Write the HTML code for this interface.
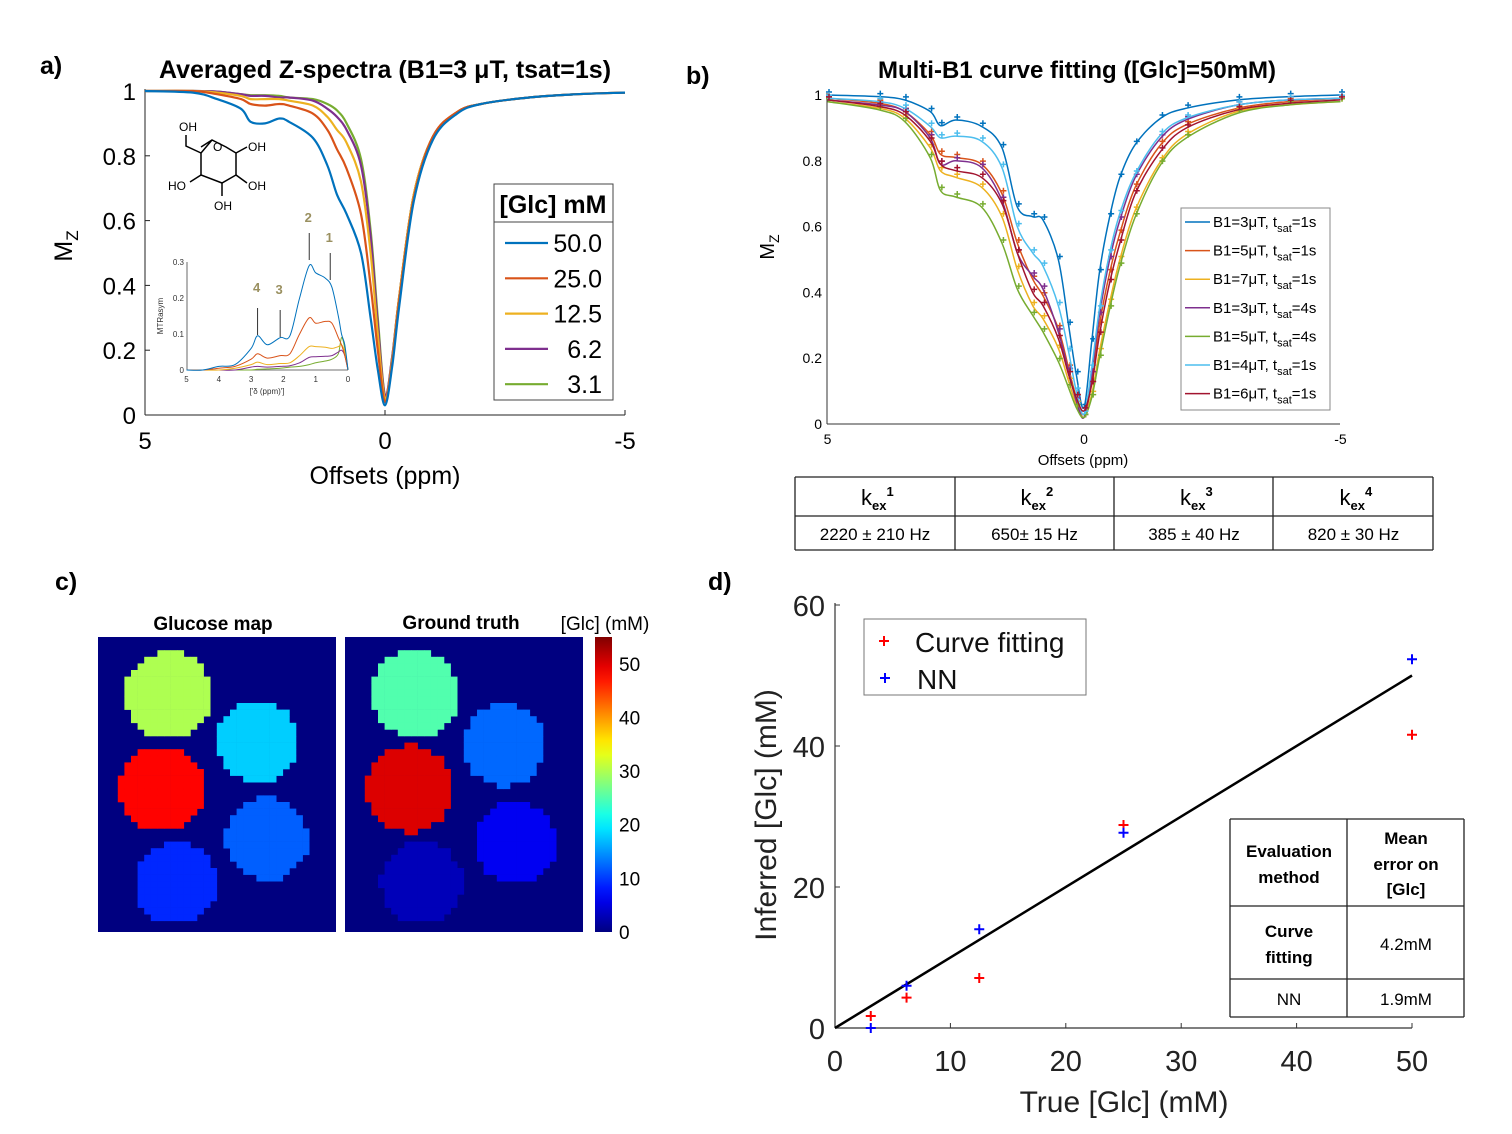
<!DOCTYPE html>
<html><head><meta charset="utf-8"><style>
html,body{margin:0;padding:0;background:#fff;}
svg{display:block;font-family:"Liberation Sans",sans-serif;}
</style></head><body>
<svg id="fig" width="1512" height="1134" viewBox="0 0 1512 1134" xmlns="http://www.w3.org/2000/svg">
<rect x="0" y="0" width="1512" height="1134" fill="#fff"/>
<text x="40" y="74" font-size="25" font-weight="bold">a)</text>
<text x="686" y="84" font-size="25" font-weight="bold">b)</text>
<text x="55" y="590" font-size="25" font-weight="bold">c)</text>
<text x="708" y="590" font-size="25" font-weight="bold">d)</text>
<text x="385" y="78" font-size="25" font-weight="bold" text-anchor="middle">Averaged Z-spectra (B1=3 μT, tsat=1s)</text>
<text x="1077" y="78" font-size="24" font-weight="bold" text-anchor="middle">Multi-B1 curve fitting ([Glc]=50mM)</text>
<g id="pa"></g>
<g id="pb"></g>
<g id="pc"></g>
<g id="pd"></g>
</svg>
<script>
// ---------- Panel a data ----------
const aOffsets=[5,4,3.5,3,2.8,2.5,2.2,2,1.5,1.2,1,0.8,0.5,0.3,0.15,0,-0.15,-0.3,-0.6,-1,-1.5,-2,-3,-4,-5];
const aLabels=["50.0","25.0","12.5","6.2","3.1"];
const aS50=[1,0.995,0.975,0.945,0.905,0.9,0.915,0.905,0.855,0.77,0.68,0.62,0.5,0.3,0.14,0.03,0.15,0.34,0.66,0.85,0.93,0.96,0.98,0.99,0.995];
const aS25=[1,1,0.99,0.975,0.96,0.955,0.96,0.955,0.93,0.88,0.82,0.76,0.62,0.4,0.2,0.04,0.16,0.36,0.67,0.86,0.935,0.96,0.98,0.99,0.995];
const aS12=[1,1,0.995,0.985,0.975,0.975,0.975,0.97,0.955,0.92,0.88,0.84,0.72,0.5,0.25,0.05,0.17,0.37,0.68,0.86,0.935,0.96,0.98,0.99,0.995];
const aS6=[1,1,0.998,0.99,0.985,0.985,0.98,0.98,0.97,0.945,0.92,0.88,0.77,0.55,0.28,0.06,0.18,0.37,0.68,0.86,0.935,0.96,0.98,0.99,0.995];
const aS3=[1,1,0.998,0.99,0.987,0.987,0.985,0.98,0.975,0.96,0.94,0.9,0.79,0.57,0.3,0.06,0.18,0.37,0.68,0.86,0.935,0.96,0.98,0.99,0.995];
const aXTicks=[5,0,-5];
const aYTicks=[0,0.2,0.4,0.6,0.8,1];
const aYTickLabels=["0","0.2","0.4","0.6","0.8","1"];
// inset
const inOffsets=[5,4.5,4,3.5,3,2.8,2.5,2.1,1.8,1.5,1.2,1,0.7,0.5,0.3,0.2,0.1,0];
const in50=[0,0,0.01,0.015,0.06,0.095,0.07,0.09,0.095,0.2,0.29,0.27,0.255,0.23,0.15,0.1,0.07,0];
const in25=[0,0,0.005,0.01,0.03,0.045,0.033,0.04,0.045,0.1,0.145,0.13,0.135,0.13,0.09,0.07,0.04,0];
const in12=[0,0,0,0.005,0.015,0.022,0.015,0.018,0.02,0.04,0.065,0.065,0.063,0.06,0.065,0.07,0.05,0];
const in6=[0,0,0,0,0.008,0.01,0.008,0.01,0.012,0.02,0.035,0.037,0.038,0.04,0.05,0.055,0.04,0];
const in3=[0,0,0,0,0,0.002,0.003,0.005,0.008,0.01,0.015,0.02,0.025,0.03,0.045,0.09,0.06,0];
const inXTicks=[5,4,3,2,1,0];
const inYTicks=[0,0.1,0.2,0.3];
const inPeaks=[0.55,1.2,2.1,2.8];
const inPeakLabels=["1","2","3","4"];
// ---------- Panel b data ----------
const bOffsets=[5,4,3.5,3,2.8,2.5,2,1.6,1.3,1,0.8,0.5,0.3,0.15,0,-0.15,-0.3,-0.5,-0.7,-1,-1.5,-2,-3,-4,-5];
const bB1=["3","5","7","3","5","4","6"];
const bTsat=["1","1","1","4","4","1","1"];
const bS1=[1,0.995,0.985,0.95,0.907,0.924,0.905,0.84,0.66,0.63,0.62,0.5,0.3,0.15,0.05,0.25,0.46,0.63,0.75,0.85,0.93,0.96,0.985,0.995,1];
const bS2=[0.99,0.975,0.95,0.88,0.82,0.81,0.79,0.7,0.55,0.44,0.39,0.29,0.17,0.08,0.02,0.13,0.3,0.46,0.58,0.72,0.85,0.91,0.96,0.98,0.99];
const bS3=[0.98,0.96,0.93,0.84,0.77,0.75,0.72,0.63,0.47,0.36,0.32,0.23,0.13,0.06,0.02,0.09,0.22,0.37,0.5,0.65,0.8,0.88,0.95,0.97,0.98];
const bS4=[0.985,0.97,0.95,0.87,0.79,0.8,0.78,0.68,0.52,0.45,0.41,0.28,0.16,0.07,0.02,0.15,0.33,0.5,0.62,0.75,0.87,0.925,0.97,0.985,0.99];
const bS5=[0.98,0.955,0.92,0.81,0.71,0.69,0.66,0.55,0.41,0.33,0.28,0.19,0.11,0.05,0.02,0.08,0.2,0.35,0.48,0.63,0.79,0.87,0.945,0.97,0.98];
const bS6=[0.99,0.98,0.96,0.905,0.87,0.875,0.86,0.78,0.6,0.52,0.48,0.36,0.22,0.1,0.03,0.17,0.35,0.52,0.64,0.76,0.88,0.93,0.97,0.985,0.99];
const bS7=[0.985,0.965,0.94,0.86,0.79,0.77,0.75,0.67,0.52,0.4,0.36,0.26,0.15,0.08,0.04,0.12,0.27,0.43,0.55,0.7,0.83,0.9,0.955,0.975,0.985];
const bXTicks=[5,0,-5];
const bYTicks=[0,0.2,0.4,0.6,0.8,1];
const bYTickLabels=["0","0.2","0.4","0.6","0.8","1"];
const kexNames=["1","2","3","4"];
const kexValues=["2220 ± 210 Hz","650± 15 Hz","385  ± 40 Hz","820 ± 30 Hz"];
// ---------- Panel c data (cell units) ----------
const cMapCx=[10.6,24.1,9.7,25.6,11.8];
const cMapCy=[8.8,15.8,23.0,30.6,37.3];
const cMapR=[6.6,6.2,6.5,6.2,6.2];
const cMapVal=[30,18,48,12,9];
const cTruthCx=[10.6,24.1,9.8,25.8,11.6];
const cTruthCy=[8.6,16.4,23.0,31.1,37.3];
const cTruthR=[6.6,6.2,6.6,6.2,6.2];
const cTruthVal=[25,12.5,50,6.2,3.1];
const cbTicks=[0,10,20,30,40,50];
// ---------- Panel d data ----------
const dTrue=[3.1,6.2,12.5,25,50];
const dCF=[1.7,4.3,7.1,28.8,41.6];
const dNN=[0,6,14,27.7,52.3];
const dXTicks=[0,10,20,30,40,50];
const dYTicks=[0,20,40,60];
const evalRows=[["Curve","fitting"],["NN"]];
const evalErr=["4.2mM","1.9mM"];

const NS="http://www.w3.org/2000/svg";
function mk(tag,attrs,parent,txt){const e=document.createElementNS(NS,tag);for(const k in attrs)e.setAttribute(k,attrs[k]);if(txt!==undefined)e.textContent=txt;parent.appendChild(e);return e;}
function smooth(pts){let d=`M${pts[0][0]},${pts[0][1]}`;
 for(let i=0;i<pts.length-1;i++){const p0=pts[Math.max(0,i-1)],p1=pts[i],p2=pts[i+1],p3=pts[Math.min(pts.length-1,i+2)];
  const c1=[p1[0]+(p2[0]-p0[0])/6,p1[1]+(p2[1]-p0[1])/6],c2=[p2[0]-(p3[0]-p1[0])/6,p2[1]-(p3[1]-p1[1])/6];
  d+=`C${c1[0].toFixed(1)},${c1[1].toFixed(1)} ${c2[0].toFixed(1)},${c2[1].toFixed(1)} ${p2[0].toFixed(1)},${p2[1].toFixed(1)}`;}
 return d;}
let el;

// ================= PANEL A =================
(function(){
const g=document.getElementById('pa');
const x=v=>385-v*48, y=v=>415-v*324;
el=mk('line',{x1:145,y1:415,x2:625,y2:415,stroke:'#222','stroke-width':1},g);

el=mk('line',{x1:145,y1:415,x2:145,y2:89,stroke:'#222','stroke-width':1},g);

aXTicks.forEach(t=>{
 el=mk('line',{x1:x(t),y1:415,x2:x(t),y2:410,stroke:'#222'},g);
 
 el=mk('text',{x:x(t),y:449,'font-size':24,'text-anchor':'middle'},g,String(t));
 
});
aYTicks.forEach((t,i)=>{
 el=mk('line',{x1:145,y1:y(t),x2:150,y2:y(t),stroke:'#222'},g);
 
 el=mk('text',{x:136,y:y(t)+9,'font-size':24,'text-anchor':'end'},g,aYTickLabels[i]);
 
});
el=mk('text',{x:385,y:484,'font-size':25,'text-anchor':'middle'},g,'Offsets (ppm)');

el=mk('text',{x:0,y:0,'font-size':25,'text-anchor':'middle',transform:'translate(72,246) rotate(-90)'},g);

el.innerHTML='M<tspan font-size="17" dy="6">Z</tspan>';
const series=[aS3,aS6,aS12,aS25,aS50];
const cols=['#77AC30','#7E2F8E','#EDB120','#D95319','#0072BD'];
series.forEach((s,i)=>{
 el=mk('path',{d:smooth(s.map((v,j)=>[x(aOffsets[j]),y(v)])),fill:'none',stroke:cols[i],'stroke-width':2.2,'stroke-linejoin':'round'},g);
 
});
// legend
el=mk('rect',{x:494,y:184,width:119,height:216,fill:'#fff',stroke:'#444','stroke-width':1},g);

el=mk('line',{x1:494,y1:222,x2:613,y2:222,stroke:'#444'},g);

el=mk('text',{x:553,y:213,'font-size':25,'font-weight':'bold','text-anchor':'middle'},g,'[Glc] mM');

const lc=['#0072BD','#D95319','#EDB120','#7E2F8E','#77AC30'];
aLabels.forEach((l,i)=>{
 const yy=243+i*35.3;
 el=mk('line',{x1:505,y1:yy,x2:548,y2:yy,stroke:lc[i],'stroke-width':2.2},g);
 
 el=mk('text',{x:602,y:yy+9,'font-size':25,'text-anchor':'end'},g,l);
 
});
// molecule
const mol=mk('g',{stroke:'#000','stroke-width':1.5,fill:'none'},g);

el=mk('polyline',{points:'201,147 212,140 226,147 236,153 236,175 222,183 201,175 201,153 212,140'},mol);

el=mk('polyline',{points:'201,153 186,146 186,135'},mol);

el=mk('polyline',{points:'236,153 247,147'},mol);

el=mk('polyline',{points:'236,175 247,183'},mol);

el=mk('polyline',{points:'201,175 190,182'},mol);

el=mk('polyline',{points:'222,183 222,196'},mol);

const labs=[[179,131,'OH'],[213,151,'O'],[248,151,'OH'],[168,190,'HO'],[248,190,'OH'],[214,210,'OH']];
labs.forEach(l=>{el=mk('text',{x:l[0],y:l[1],'font-size':12},g,l[2]);
 });
// inset
const ix=v=>348-v*32.3, iy=v=>370-v*360;
el=mk('polyline',{points:'187,262 187,370 348,370',fill:'none',stroke:'#444','stroke-width':0.8},g);

inXTicks.forEach(t=>{el=mk('text',{x:ix(t),y:382,'font-size':8,'text-anchor':'middle',fill:'#333'},g,String(t));
 });
inYTicks.forEach(t=>{el=mk('text',{x:184,y:iy(t)+3,'font-size':8,'text-anchor':'end',fill:'#333'},g,String(t));
 });
el=mk('text',{x:267,y:394,'font-size':8,'text-anchor':'middle',fill:'#333'},g,"['δ (ppm)']");

el=mk('text',{x:0,y:0,'font-size':8,'text-anchor':'middle',fill:'#333',transform:'translate(163,316) rotate(-90)'},g,'MTRasym');

[in3,in6,in12,in25,in50].forEach((s,i)=>{
 el=mk('path',{d:smooth(s.map((v,j)=>[ix(inOffsets[j]),iy(v)])),fill:'none',stroke:cols[i],'stroke-width':1},g);
 
});
inPeaks.forEach((p,i)=>{
 const top=[245,225,302,300][i];
 el=mk('line',{x1:ix(p),y1:top+8,x2:ix(p),y2:top+35,stroke:'#333'},g);
 
 el=mk('text',{x:ix(p)-1,y:top+(i<2?-3:-8),'font-size':13,'font-weight':'bold','text-anchor':'middle',fill:'#9a9060'},g,inPeakLabels[i]);
 
});
})();

// ================= PANEL B =================
(function(){
const g=document.getElementById('pb');
const x=v=>1084-v*51.3, y=v=>424-v*329;
el=mk('line',{x1:827,y1:424,x2:1340,y2:424,stroke:'#333'},g);

el=mk('line',{x1:827,y1:424,x2:827,y2:93,stroke:'#333'},g);

bXTicks.forEach(t=>{el=mk('text',{x:x(t),y:444,'font-size':14,'text-anchor':'middle'},g,String(t));
 });
bYTicks.forEach((t,i)=>{el=mk('text',{x:822,y:y(t)+5,'font-size':14,'text-anchor':'end'},g,bYTickLabels[i]);
 });
el=mk('text',{x:1083,y:465,'font-size':15,'text-anchor':'middle'},g,'Offsets (ppm)');

el=mk('text',{x:0,y:0,'font-size':20,'text-anchor':'middle',transform:'translate(774,247) rotate(-90)'},g);

el.innerHTML='M<tspan font-size="14" dy="5">Z</tspan>';
const series=[bS1,bS2,bS3,bS4,bS5,bS6,bS7];
const cols=['#0072BD','#D95319','#EDB120','#7E2F8E','#77AC30','#4DBEEE','#A2142F'];
series.forEach((s,i)=>{
 el=mk('path',{d:smooth(s.map((v,j)=>[x(bOffsets[j]),y(v)])),fill:'none',stroke:cols[i],'stroke-width':1.5},g);
 
 s.forEach((v,j)=>{
  const px=x(bOffsets[j])+1.5,py=y(v)-3;
  el=mk('path',{d:`M${px-3},${py}h6M${px},${py-3}v6`,stroke:cols[i],'stroke-width':1.5},g);
  
 });
});
el=mk('rect',{x:1181,y:208,width:149,height:202,fill:'#fff',stroke:'#888'},g);

bB1.forEach((b,i)=>{
 const yy=222+i*28.6;
 el=mk('line',{x1:1185,y1:yy,x2:1210,y2:yy,stroke:cols[i],'stroke-width':1.5},g);
 
 el=mk('text',{x:1213,y:yy+5,'font-size':15},g);
 
 el.innerHTML=`B1=${b}μT, t<tspan font-size="11" dy="5">sat</tspan><tspan dy="-5">=${bTsat[i]}s</tspan>`;
});
// kex table
const tb=mk('g',{},g);

el=mk('path',{d:'M795,477H1433M795,516H1433M795,550H1433M795,477V550M955,477V550M1114,477V550M1273,477V550M1433,477V550',stroke:'#222','stroke-width':1.3,fill:'none'},tb);

kexNames.forEach((k,i)=>{
 const cx=875+i*159.5;
 el=mk('text',{x:cx-14,y:505,'font-size':22},tb);
 
 el.innerHTML=`k<tspan font-size="13" font-weight="bold" dy="5">ex</tspan><tspan font-size="13" font-weight="bold" dy="-14">${k}</tspan>`;
 el=mk('text',{x:cx,y:540,'font-size':17,'text-anchor':'middle'},tb,kexValues[i]);
 
});
})();

// ================= PANEL C =================
(function(){
const g=document.getElementById('pc');
const vmax=55, cs=6.6, cols=36, rows=45;
function jet(v){const t=Math.max(0,Math.min(1,v/vmax));
 const f=(a)=>Math.max(0,Math.min(1,1.5-Math.abs(4*t-a)));
 return `rgb(${Math.round(255*f(3))},${Math.round(255*f(2))},${Math.round(255*f(1))})`;}
function map(x0,name,cx,cy,r,val){
 el=mk('rect',{x:x0,y:637,width:238,height:295,fill:jet(0)},g);
 
 cx.forEach((c,k)=>{
  for(let i=0;i<cols;i++)for(let j=0;j<rows;j++){
   const dx=i+0.5-c,dy=j+0.5-cy[k];
   if(dx*dx+dy*dy<=r[k]*r[k]){
    el=mk('rect',{x:x0+i*cs,y:637+j*cs,width:cs+0.3,height:cs+0.3,fill:jet(val[k])},g);
    
   }
  }
 });
}
map(98,'glucose-map',cMapCx,cMapCy,cMapR,cMapVal);
map(345,'ground-truth',cTruthCx,cTruthCy,cTruthR,cTruthVal);
el=mk('text',{x:213,y:630,'font-size':19,'font-weight':'bold','text-anchor':'middle'},g,'Glucose map');

el=mk('text',{x:461,y:629,'font-size':19,'font-weight':'bold','text-anchor':'middle'},g,'Ground truth');

el=mk('text',{x:605,y:630,'font-size':19,'text-anchor':'middle'},g,'[Glc] (mM)');

const defs=mk('defs',{},g);
const lg=mk('linearGradient',{id:'jetg',x1:0,y1:1,x2:0,y2:0},defs);
for(let s=0;s<=20;s++){mk('stop',{offset:s/20,'stop-color':jet(s/20*vmax)},lg);}
el=mk('rect',{x:595,y:637,width:17,height:295,fill:'url(#jetg)'},g);

cbTicks.forEach(t=>{const yy=932-t*295/vmax;
 el=mk('text',{x:619,y:yy+7,'font-size':19},g,String(t));
 });
})();

// ================= PANEL D =================
(function(){
const g=document.getElementById('pd');
const x=v=>835+v*11.54, y=v=>1028-v*7.05;
el=mk('line',{x1:835,y1:1028,x2:1412,y2:1028,stroke:'#333','stroke-width':1.2},g);

el=mk('line',{x1:835,y1:1028,x2:835,y2:603,stroke:'#333','stroke-width':1.2},g);

dXTicks.forEach(t=>{
 el=mk('line',{x1:x(t),y1:1028,x2:x(t),y2:1023,stroke:'#333'},g);
 
 el=mk('text',{x:x(t),y:1071,'font-size':29,'text-anchor':'middle',fill:'#222'},g,String(t));
 });
dYTicks.forEach(t=>{
 el=mk('line',{x1:835,y1:y(t),x2:840,y2:y(t),stroke:'#333'},g);
 
 el=mk('text',{x:825,y:y(t)+11,'font-size':29,'text-anchor':'end',fill:'#222'},g,String(t));
 });
el=mk('text',{x:1124,y:1112,'font-size':30,'text-anchor':'middle',fill:'#222'},g,'True [Glc] (mM)');

el=mk('text',{x:0,y:0,'font-size':30,'text-anchor':'middle',fill:'#222',transform:'translate(776,815) rotate(-90)'},g,'Inferred [Glc] (mM)');

el=mk('line',{x1:x(0),y1:y(0),x2:x(50),y2:y(50),stroke:'#000','stroke-width':2.5},g);

function plus(px,py,c,name){el=mk('path',{d:`M${px-5},${py}h10M${px},${py-5}v10`,stroke:c,'stroke-width':2},g);
 }
dTrue.forEach((t,i)=>{plus(x(t),y(dCF[i]),'#f00','curve-fitting-point');plus(x(t),y(dNN[i]),'#00f','nn-point');});
el=mk('rect',{x:864,y:619,width:222,height:76,fill:'#fff',stroke:'#777'},g);

plus(884,641,'#f00','legend-marker-curve-fitting');plus(885,678,'#00f','legend-marker-nn');
el=mk('text',{x:915,y:652,'font-size':28,fill:'#111'},g,'Curve fitting');

el=mk('text',{x:917,y:689,'font-size':28,fill:'#111'},g,'NN');

const tb=mk('g',{},g);

el=mk('rect',{x:1230,y:819,width:234,height:198,fill:'#fff',stroke:'none'},tb);

el=mk('path',{d:'M1230,819H1464M1230,906H1464M1230,979H1464M1230,1017H1464M1230,819V1017M1347,819V1017M1464,819V1017',stroke:'#222','stroke-width':1.3,fill:'none'},tb);

[['Evaluation',857],['method',883]].forEach(a=>{el=mk('text',{x:1289,y:a[1],'font-size':17,'font-weight':'bold','text-anchor':'middle'},tb,a[0]);
 });
[['Mean',844],['error on',870],['[Glc]',895]].forEach(a=>{el=mk('text',{x:1406,y:a[1],'font-size':17,'font-weight':'bold','text-anchor':'middle'},tb,a[0]);
 });
[['Curve',937],['fitting',963]].forEach(a=>{el=mk('text',{x:1289,y:a[1],'font-size':17,'font-weight':'bold','text-anchor':'middle'},tb,a[0]);
 });
el=mk('text',{x:1289,y:1005,'font-size':17,'text-anchor':'middle'},tb,evalRows[1][0]);

el=mk('text',{x:1406,y:950,'font-size':17,'text-anchor':'middle'},tb,evalErr[0]);

el=mk('text',{x:1406,y:1005,'font-size':17,'text-anchor':'middle'},tb,evalErr[1]);

})();
</script>
</body></html>
